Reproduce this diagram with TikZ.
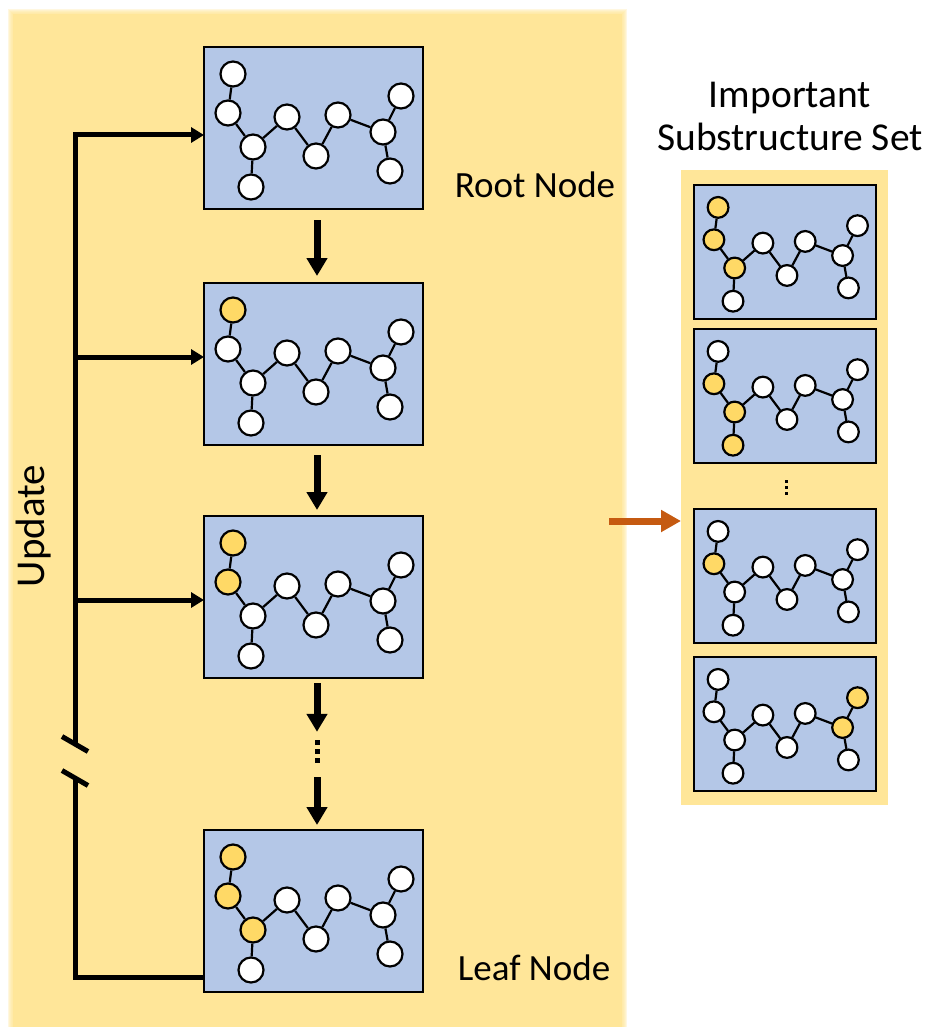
\documentclass[tikz,border=0pt]{standalone}
\usepackage{fontspec}
\setmainfont{Carlito}
\usetikzlibrary{arrows.meta}

\definecolor{panel}{HTML}{FFE699}
\definecolor{boxblue}{HTML}{B4C7E7}
\definecolor{atomhl}{HTML}{FFD966}
\definecolor{flow}{HTML}{C55A11}

\tikzset{
  molbox/.style={draw, line width=2pt, fill=boxblue, minimum width=219pt,
    minimum height=162pt, anchor=north west, inner sep=0pt, outer sep=0pt},
  atom/.style={circle, draw, line width=2.2pt, minimum size=25pt, inner sep=0pt},
  bond/.style={line width=2.2pt},
  down/.style={line width=7pt, -{Triangle[width=20pt,length=18pt]}},
  upd/.style={line width=5pt},
  updarrow/.style={upd, -{Triangle[width=15pt,length=13pt]}},
  brk/.style={line width=5pt},
  lbl/.style={font=\fontsize{37}{43}\selectfont, inner sep=0pt},
}

% #1 name, #2 x, #3 y (top-left corner), #4 scale, #5 highlighted atoms (0 = none)
\newcommand\molecule[5]{%
  \begin{scope}[shift={(#2,#3)}, scale=#4, transform shape]
    \node[molbox] (#1) at (0,0) {};
    \foreach \i/\x/\y in {1/29/27, 2/24/66, 3/49/100, 4/47/140, 5/83/70,
                          6/112/109, 7/134/68, 8/179/85, 9/197/49, 10/186/124}{
      \gdef\atomcol{white}%
      \foreach \h in {#5}{\ifnum\h=\i\relax\gdef\atomcol{atomhl}\fi}%
      \node[atom, fill=\atomcol] (#1n\i) at (\x,\y) {};
    }
    \foreach \a/\b in {1/2, 2/3, 3/4, 3/5, 5/6, 6/7, 7/8, 8/9, 8/10}
      \draw[bond] (#1n\a) -- (#1n\b);
  \end{scope}}

\begin{document}
\begin{tikzpicture}[x=1pt, y=-1pt]
  \useasboundingbox (0,0) rectangle (928,1027);

  % left panel with soft edges
  \fill[panel] (13,14) rectangle (622,1027);
  \foreach \d in {1,...,5}
    \fill[panel, opacity=0.3] (13-\d,14-\d) rectangle (622+\d,1027);

  % right panel
  \node[fill=panel, minimum width=207pt, minimum height=635pt, anchor=north west,
        inner sep=0pt, outer sep=0pt] (rp) at (681,170) {};

  % search path boxes
  \molecule{b1}{204}{47}{1}{0}
  \molecule{b2}{204}{283}{1}{1}
  \molecule{b3}{204}{516}{1}{1,2}
  \molecule{b4}{204}{830}{1}{1,2,3}

  % substructure set
  \molecule{r1}{694}{185}{0.83}{1,2,3}
  \molecule{r2}{694}{329}{0.83}{2,3,4}
  \molecule{r3}{694}{509}{0.83}{2}
  \molecule{r4}{694}{657}{0.83}{8,9}

  % downward flow
  \draw[down, shorten <=11pt, shorten >=7pt] ([xshift=3.5pt]b1.south) -- ([xshift=3.5pt]b2.north);
  \draw[down, shorten <=10pt, shorten >=6pt] ([xshift=3.5pt]b2.south) -- ([xshift=3.5pt]b3.north);
  \node[minimum width=6pt, minimum height=26pt, inner sep=0pt] (vd) at (317,751) {};
  \foreach \yy in {742,751,760}
    \fill (314.5,\yy-2.5) rectangle ++(5,5);
  \draw[down, shorten <=5pt, shorten >=6pt] ([xshift=3.5pt]b3.south) -- (vd.north);
  \draw[down, shorten <=13pt, shorten >=5pt] (vd.south) -- ([xshift=3.5pt]b4.north);

  % dots between substructures
  \node[minimum width=4pt, minimum height=16pt, inner sep=0pt] (rd) at (786,487) {};
  \foreach \yy in {481,487,493}
    \fill (784.5,\yy-1.5) rectangle ++(3,3);

  % update loop
  \coordinate (u1) at (75,135);
  \coordinate (u2) at (75,357);
  \coordinate (u3) at (75,600);
  \coordinate (brk1) at (75,744);
  \coordinate (brk2) at (75,778);
  \coordinate (lb) at (75,977);
  \draw[updarrow] (brk1) -- (u1) -- (u1 -| b1.west);
  \draw[updarrow] (u2) -- (u2 -| b2.west);
  \draw[updarrow] (u3) -- (u3 -| b3.west);
  \draw[upd] (brk2) -- (lb) -- (lb -| b4.west);
  \draw[brk] (brk1) ++(-13,-7.5) -- ++(26,15);
  \draw[brk] (brk2) ++(-13,-7.5) -- ++(26,15);

  % orange arrow into the set
  \coordinate (os) at (609,521);
  \draw[line width=7pt, flow, -{Triangle[width=21pt,length=20pt]}] (os) -- (os -| rp.west);

  % labels
  \node[lbl, font=\fontsize{41}{48}\selectfont, rotate=90] (updlbl) at (34,526) {Update};
  \node[lbl] (root) at (535,185) {Root Node};
  \node[lbl] (leaf) at (534,968) {Leaf Node};
  \node[lbl, font=\fontsize{39.5}{43}\selectfont, align=center] (title) at (790,116) {Important\\Substructure Set};
\end{tikzpicture}
\end{document}
